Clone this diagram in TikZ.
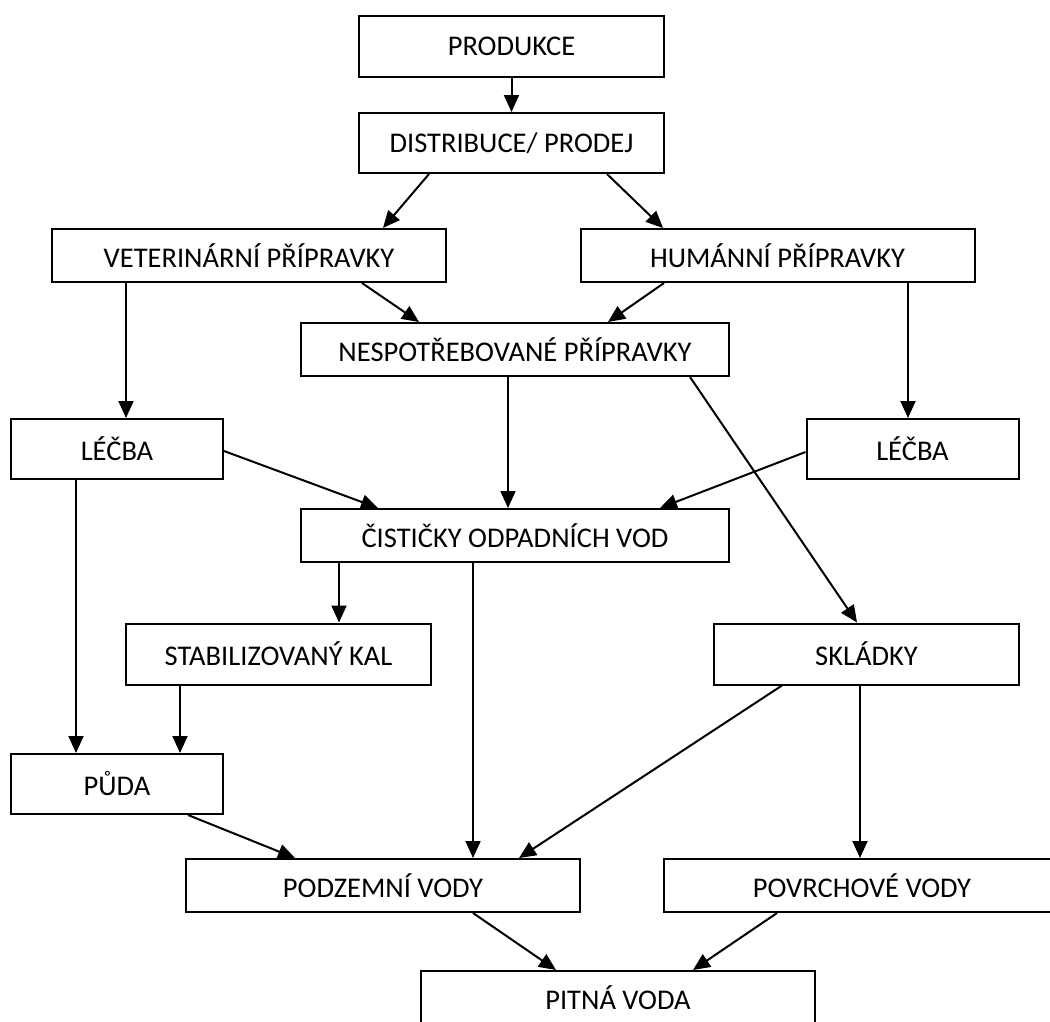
\documentclass[tikz,border=0pt]{standalone}
\usepackage{fontspec}
\setmainfont{Carlito}
\usetikzlibrary{arrows.meta}

\begin{document}
\begin{tikzpicture}[x=1pt,y=-1pt,->,>={Triangle[length=17pt,width=15pt]},line width=2pt,
                    box/.style={draw,rectangle,line width=2pt,inner sep=0pt,font=\fontsize{28.5}{34}\selectfont},
                    wide/.style={box,minimum width=394pt,minimum height=53pt},
                    mid/.style={box,minimum width=305pt,minimum height=61pt},
                    small/.style={box,minimum width=212pt,minimum height=60pt},
                    long/.style={box,minimum width=428pt,minimum height=53pt}]

  \useasboundingbox (0,0) rectangle (1050,1021);

  \node[mid] (prod)   at (511.5,46)   {PRODUKCE};
  \node[mid,minimum height=60pt] (dist)   at (511.5,143)  {DISTRIBUCE/ PRODEJ};
  \node[wide] (vet)   at (249,255.5)  {VETERINÁRNÍ PŘÍPRAVKY};
  \node[wide] (hum)   at (777.5,255.5) {HUMÁNNÍ PŘÍPRAVKY};
  \node[long] (nesp)  at (515,349.5)  {NESPOTŘEBOVANÉ PŘÍPRAVKY};
  \node[small] (lecbaL) at (117,449)  {LÉČBA};
  \node[small] (lecbaR) at (912.5,449) {LÉČBA};
  \node[long] (cist)  at (515,535.5)  {ČISTIČKY ODPADNÍCH VOD};
  \node[mid] (stab)   at (278.5,654)  {STABILIZOVANÝ KAL};
  \node[mid] (skl)    at (866.5,654)  {SKLÁDKY};
  \node[small] (puda) at (117,784)    {PŮDA};
  \node[wide] (podz)  at (383,885.5)  {PODZEMNÍ VODY};
  \node[wide,minimum width=396pt] (povrch) at (862,885.5) {POVRCHOVÉ VODY};
  \node[wide] (pitna) at (618,997.5)  {PITNÁ VODA};

  % upper part
  \draw (prod.south) -- (dist.north);
  \draw ([xshift=-82.5pt]dist.south) -- ([xshift=134pt]vet.north);
  \draw ([xshift=95.5pt]dist.south) -- ([xshift=-114.5pt]hum.north);
  \draw ([xshift=113pt]vet.south) -- ([xshift=-96pt]nesp.north);
  \draw ([xshift=-113.5pt]hum.south) -- ([xshift=93pt]nesp.north);
  \draw ([xshift=-123pt]vet.south) -- ([xshift=9pt]lecbaL.north);
  \draw ([xshift=130.5pt]hum.south) -- ([xshift=-4.5pt]lecbaR.north);

  % treatment plants and landfill
  \draw ([xshift=-7pt]nesp.south) -- ([xshift=-7pt]cist.north);
  \draw ([xshift=175pt]nesp.south) -- ([xshift=-9.5pt]skl.north);
  \draw ([yshift=-2pt]lecbaL.east) -- ([xshift=-137pt]cist.north);
  \draw ([yshift=-3pt]lecbaR.west) -- ([xshift=145pt]cist.north);
  \draw ([xshift=-41pt]lecbaL.south) -- ([xshift=-41pt]puda.north);
  \draw ([xshift=-176pt]cist.south) -- ([xshift=60.5pt]stab.north);
  \draw ([xshift=-42pt]cist.south) -- ([xshift=90pt]podz.north);
  \draw ([xshift=-98.5pt]stab.south) -- ([xshift=63pt]puda.north);

  % waters
  \draw ([xshift=71pt]puda.south) -- ([xshift=-88pt]podz.north);
  \draw ([xshift=-84.5pt]skl.south) -- ([xshift=136pt]podz.north);
  \draw ([xshift=-6.5pt]skl.south) -- ([xshift=-2pt]povrch.north);
  \draw ([xshift=90pt]podz.south) -- ([xshift=-62pt]pitna.north);
  \draw ([xshift=-85pt]povrch.south) -- ([xshift=75pt]pitna.north);
\end{tikzpicture}
\end{document}
